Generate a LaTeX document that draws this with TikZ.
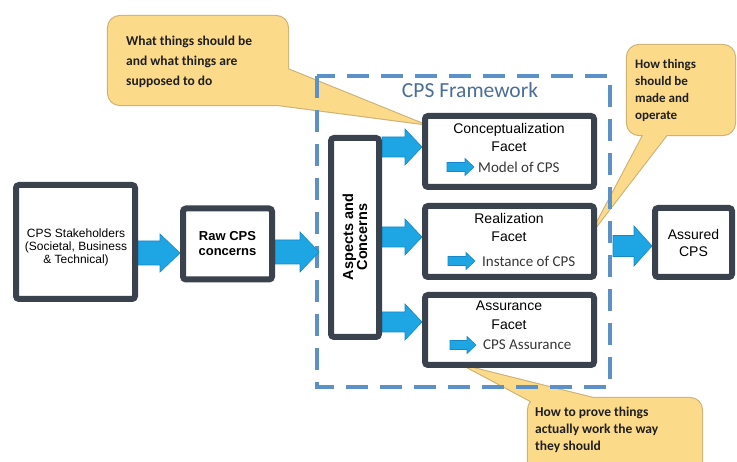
\documentclass[tikz,border=0pt]{standalone}
\usepackage{fontspec}
\setmainfont{Liberation Sans}
\newfontfamily\calib{Carlito}
\usetikzlibrary{calc}

\definecolor{boxline}{RGB}{58,66,78}
\definecolor{arrowblue}{RGB}{30,166,228}
\definecolor{arrowedge}{RGB}{22,136,200}
\definecolor{frameblue}{RGB}{92,145,200}
\definecolor{titleblue}{RGB}{74,110,152}
\definecolor{noteyellow}{RGB}{251,218,138}
\definecolor{noteedge}{RGB}{205,178,118}
\definecolor{subgray}{RGB}{55,55,55}

\pgfdeclarelayer{back}
\pgfsetlayers{back,main}

% block arrow: start point, end point, shaft half-height, head half-height, head length (pt)
\newcommand\blockarrow[5]{%
  \filldraw[blockarrowstyle] let \p1=(#1), \p2=(#2) in
    (\x1,{\y1+#3pt}) -- ({\x2-#5pt},{\y1+#3pt}) -- ({\x2-#5pt},{\y1+#4pt}) -- (\x2,\y1)
    -- ({\x2-#5pt},{\y1-#4pt}) -- ({\x2-#5pt},{\y1-#3pt}) -- (\x1,{\y1-#3pt}) -- cycle;}

\tikzset{
  box/.style={draw=boxline, line width=6pt, rounded corners=3pt, fill=white, inner sep=0pt},
  boxtext/.style={align=center, inner sep=0pt, text=black},
  subtext/.style={font=\calib\fontsize{15}{17}\selectfont, text=subgray, inner sep=0pt, anchor=west},
  blockarrowstyle/.style={fill=arrowblue, draw=arrowedge, line width=0.6pt},
  note/.style={fill=noteyellow, preaction={draw=noteedge, line width=2.2pt}},
  notetext/.style={font=\calib\bfseries\fontsize{13.5}{19}\selectfont, align=left, inner sep=0pt, anchor=west, text=black!88},
  frame/.style={draw=frameblue, line width=4.5pt, dash pattern=on 22pt off 12pt},
}

\begin{document}
\begin{tikzpicture}[x=1pt, y=-1pt]
\clip (0,0) rectangle (737,462);

% boxes
\node[box, minimum width=119pt, minimum height=114pt] (stake) at (75.5,242) {};
\node[box, minimum width=89pt, minimum height=71pt, boxtext, font=\bfseries\fontsize{13}{15}\selectfont] (raw) at (227.5,244) {Raw CPS\\concerns};
\node[box, minimum width=48pt, minimum height=199pt] (asp) at (355,237.5) {};
\node[box, minimum width=169pt, minimum height=71pt] (conc) at (509.5,151.5) {};
\node[box, minimum width=169pt, minimum height=71pt] (real) at (509.5,241.5) {};
\node[box, minimum width=169pt, minimum height=70pt] (assur) at (509.5,330) {};
\node[box, minimum width=77pt, minimum height=69pt, boxtext, font=\fontsize{14}{17}\selectfont] (assured) at (693.5,242.5) {Assured\\CPS};

% box texts
\node[boxtext, font=\fontsize{12}{13}\selectfont] (staketext) at (76,247.5) {CPS Stakeholders\\(Societal, Business\\\& Technical)};
\node[boxtext, rotate=90, font=\bfseries\fontsize{14.5}{14}\selectfont] (asptext) at (355,237) {Aspects and\\Concerns};
\node[boxtext, font=\fontsize{14}{18.5}\selectfont] (conctitle) at (509,137.5) {Conceptualization\\Facet};
\node[boxtext, font=\fontsize{14}{18.5}\selectfont] (realtitle) at (509,227.5) {Realization\\Facet};
\node[boxtext, font=\fontsize{14}{18.5}\selectfont] (assurtitle) at (509,315.5) {Assurance\\Facet};
\node[subtext] (m1) at (478,167) {Model of CPS};
\node[subtext] (m2) at (482,261) {Instance of CPS};
\node[subtext] (m3) at (483,345) {CPS Assurance};

% small arrows inside the facets
\blockarrow{$(m1.west)+(-31,0)$}{$(m1.west)+(-4,0)$}{4.5}{8.5}{9}
\blockarrow{$(m2.west)+(-34,0)$}{$(m2.west)+(-7,0)$}{4.5}{8.5}{9}
\blockarrow{$(m3.west)+(-33,0)$}{$(m3.west)+(-7,0)$}{4.5}{8.5}{9}

\begin{pgfonlayer}{back}
  % callouts
  \path[note] [rounded corners=12pt] (108,16) -- (288,16) -- (288,105) -- (108,105) -- cycle
        [sharp corners] (280,66) -- (423,124) -- (255,102) -- cycle;
  \path[note] [rounded corners=12pt] (627,45) -- (735,45) -- (735,135) -- (627,135) -- cycle
        [sharp corners] (672,128) -- (592,232) -- (647,128) -- cycle;
  \path[note] [rounded corners=12pt] (528,398) -- (702,398) -- (702,480) -- (528,480) -- cycle
        [sharp corners] (540,406) -- (465,366) -- (625,406) -- cycle;

  % framework boundary
  \draw[frame] (317,76) rectangle (610,387);

  % connectors
  \blockarrow{stake.east |- 0,253}{raw.west}{12}{19}{20}
  \blockarrow{raw.east |- 0,252}{$(asp.west)+(-9,0)$}{12}{20}{19}
  \blockarrow{asp.east |- 0,147}{conc.west}{10}{18}{17}
  \blockarrow{asp.east |- 0,237}{real.west}{10}{18}{17}
  \blockarrow{asp.east |- 0,322}{assur.west}{10}{18}{17}
  \blockarrow{$(real.east |- 0,246)+(16,0)$}{assured.west}{10.5}{20}{18}
\end{pgfonlayer}

% callout texts
\node[notetext, font=\calib\bfseries\fontsize{13.5}{20}\selectfont] (note1) at (126,62) {What things should be\\and what things are\\supposed to do};
\node[notetext, font=\calib\bfseries\fontsize{13}{17}\selectfont] (note2) at (635,90) {How things\\should be\\made and\\operate};
\node[notetext, font=\calib\bfseries\fontsize{13.5}{17}\selectfont] (note3) at (535,430) {How to prove things\\actually work the way\\they should};

% framework title
\node[font=\calib\fontsize{21.5}{25}\selectfont, text=titleblue, inner sep=0pt] (title) at (470,90) {CPS Framework};
\end{tikzpicture}
\end{document}
